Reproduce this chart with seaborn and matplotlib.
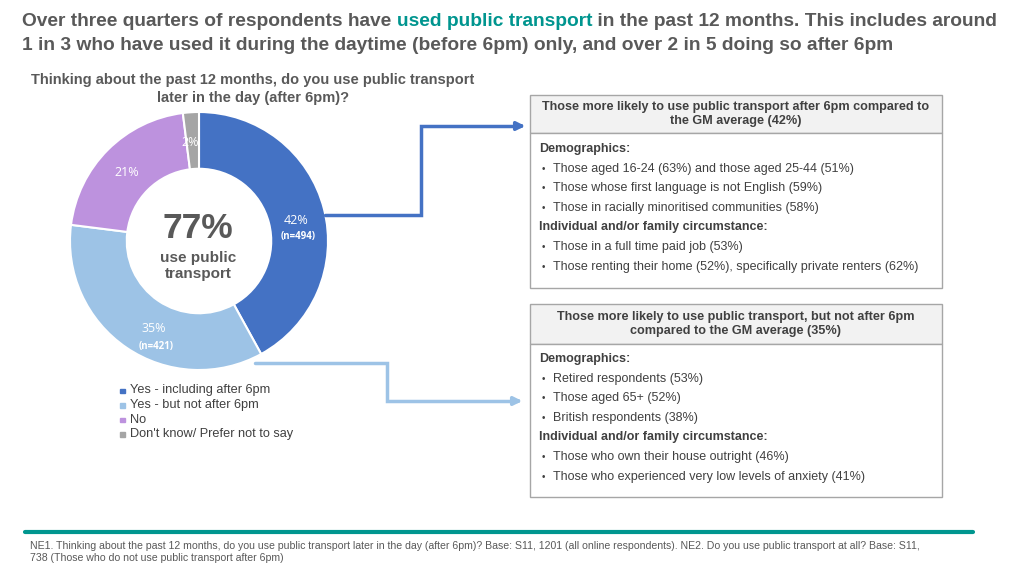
import matplotlib
matplotlib.use('Agg')
import matplotlib.pyplot as plt
import seaborn as sns
from matplotlib.patches import Rectangle

# data
categories = ['Yes - including after 6pm', 'Yes - but not after 6pm', 'No', "Don't know/ Prefer not to say"]
shares = [42, 35, 21, 2]
counts = ['(n=494)', '(n=421)', '', '']
colors = ['#4472C4', '#9DC3E6', '#BD92DE', '#A5A5A5']

box1_title = 'Those more likely to use public transport after 6pm compared to\nthe GM average (42%)'
box1_lines = [('Demographics:', True),
              ('Those aged 16-24 (63%) and those aged 25-44 (51%)', False),
              ('Those whose first language is not English (59%)', False),
              ('Those in racially minoritised communities (58%)', False),
              ('Individual and/or family circumstance:', True),
              ('Those in a full time paid job (53%)', False),
              ('Those renting their home (52%), specifically private renters (62%)', False)]
box2_title = 'Those more likely to use public transport, but not after 6pm\ncompared to the GM average (35%)'
box2_lines = [('Demographics:', True),
              ('Retired respondents (53%)', False),
              ('Those aged 65+ (52%)', False),
              ('British respondents (38%)', False),
              ('Individual and/or family circumstance:', True),
              ('Those who own their house outright (46%)', False),
              ('Those who experienced very low levels of anxiety (41%)', False)]

sns.set_theme(style='white')
plt.rcParams['font.family'] = ['Liberation Sans', 'DejaVu Sans']

GREY = '#595959'
DARK = '#404040'
TEAL = '#00958F'

fig = plt.figure(figsize=(10.24, 5.76), dpi=100)
W, H = 1024, 576

# donut
cx, cy, r = 199, 241, 129
pax = fig.add_axes([(cx - r) / W, (H - cy - r) / H, 2 * r / W, 2 * r / H])
wedges, _ = pax.pie(shares, colors=colors, startangle=90, counterclock=False,
                    radius=1, wedgeprops=dict(width=0.44, edgecolor='white', linewidth=1.5))
pax.set_xlim(-1, 1)
pax.set_ylim(-1, 1)
pax.set_aspect('equal')
pax.axis('off')

# overlay axes in pixel coords
ax = fig.add_axes([0, 0, 1, 1])
ax.set_xlim(0, W)
ax.set_ylim(H, 0)
ax.axis('off')

# title with coloured phrase
fs = 13.8
t1 = ax.text(22, 22, 'Over three quarters of respondents have ', fontsize=fs, fontweight='bold',
             color=GREY, va='center')
t2 = ax.annotate('used public transport', xy=(1, 0), xycoords=t1, va='bottom', fontsize=fs,
                 fontweight='bold', color=TEAL)
ax.annotate(' in the past 12 months. This includes around', xy=(1, 0), xycoords=t2, va='bottom',
            fontsize=fs, fontweight='bold', color=GREY)
ax.text(22, 46, '1 in 3 who have used it during the daytime (before 6pm) only, and over 2 in 5 doing so after 6pm',
        fontsize=fs, fontweight='bold', color=GREY, va='center')

ax.text(253, 89, 'Thinking about the past 12 months, do you use public transport\nlater in the day (after 6pm)?',
        ha='center', va='center', fontsize=10.5, fontweight='bold', color=GREY, linespacing=1.3)

# centre labels
ax.text(cx - 1, 228, '77%', ha='center', va='center', fontsize=25.5, fontweight='bold', color=GREY)
ax.text(cx - 1, 266, 'use public\ntransport', ha='center', va='center', fontsize=11, fontweight='bold',
        color=GREY, linespacing=1.15)

# slice labels
lab_pos = [(296, 220), (154, 329), (127, 173), (190, 143)]
for (x, y), s, n in zip(lab_pos, shares, counts):
    ax.text(x, y, f'{s}%', ha='center', va='center', fontsize=9, color='white', family='Open Sans')
    if n:
        ax.text(x + 2, y + 17, n, ha='center', va='center', fontsize=7, fontweight='bold',
                color='white', family='Open Sans')

# legend
for i, (c, lab) in enumerate(zip(colors, categories)):
    y = 390.5 + i * 14.6
    ax.add_patch(Rectangle((120, y - 2), 4.5, 4.5, color=c))
    ax.text(130, y, lab, va='center', fontsize=9.2, color=DARK)

# connectors
ax.plot([325, 421, 421, 520], [215, 215, 126, 126], color='#4472C4', lw=2.5, solid_joinstyle='miter')
ax.annotate('', xy=(528, 126), xytext=(515, 126),
            arrowprops=dict(arrowstyle='-|>', color='#4472C4', lw=2.5, mutation_scale=12))
ax.plot([255, 387, 387, 517], [363, 363, 401, 401], color='#9DC3E6', lw=2.5, solid_joinstyle='miter')
ax.annotate('', xy=(525, 401), xytext=(512, 401),
            arrowprops=dict(arrowstyle='-|>', color='#9DC3E6', lw=2.5, mutation_scale=12))


def draw_box(top, head_h, bottom, title, lines, y0):
    ax.add_patch(Rectangle((530, top), 412, head_h, facecolor='#F2F2F2', edgecolor='#A6A6A6', lw=1))
    ax.add_patch(Rectangle((530, top + head_h), 412, bottom - top - head_h, facecolor='white',
                           edgecolor='#A6A6A6', lw=1))
    ax.text(736, top + head_h / 2, title, ha='center', va='center', fontsize=9.1, fontweight='bold',
            color=DARK, linespacing=1.3)
    for i, (txt, bold) in enumerate(lines):
        y = y0 + i * 19.6
        if bold:
            ax.text(539, y, txt, va='center', fontsize=9, fontweight='bold', color=DARK)
        else:
            ax.text(542, y, '\u2022', va='center', fontsize=7, color=DARK)
            ax.text(553, y, txt, va='center', fontsize=9, color=DARK)


draw_box(95, 38, 288, box1_title, box1_lines, 149)
draw_box(304, 40, 497, box2_title, box2_lines, 359)

# footer
ax.plot([25, 973], [532, 532], color='#00968F', lw=3)
ax.text(30, 552, 'NE1. Thinking about the past 12 months, do you use public transport later in the day (after 6pm)? '
        'Base: S11, 1201 (all online respondents). NE2. Do you use public transport at all? Base: S11,\n'
        '738 (Those who do not use public transport after 6pm)',
        va='center', fontsize=7.6, color=GREY, linespacing=1.3)

fig.savefig('out.png', dpi=100)
